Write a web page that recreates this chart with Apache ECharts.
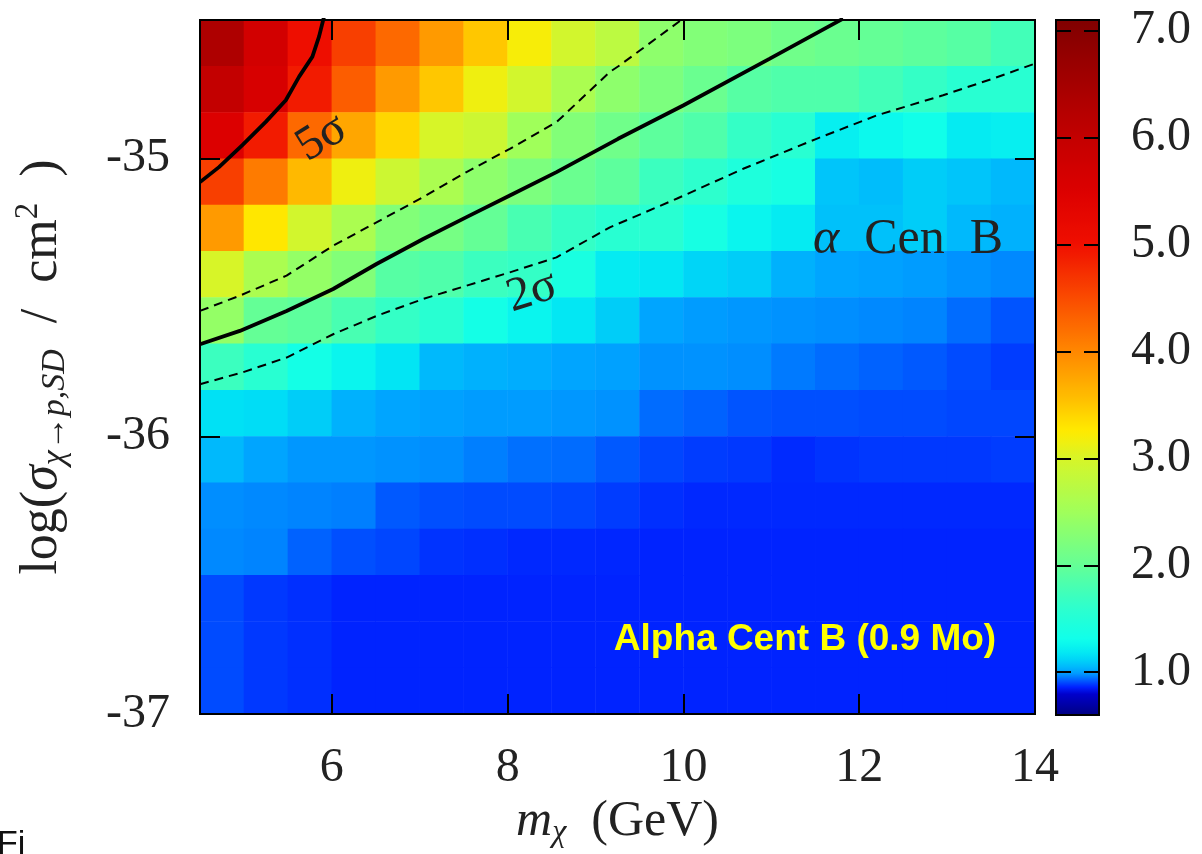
<!DOCTYPE html>
<html><head><meta charset="utf-8">
<script src="https://cdn.jsdelivr.net/npm/echarts@6/dist/echarts.min.js"></script>
<style>html,body{margin:0;padding:0;background:#fff}#c{width:1202px;height:854px}</style>
</head><body><div id="c"></div><script>
// ---- axes / bins ----
const massCentres = [4.75,5.25,5.75,6.25,6.75,7.25,7.75,8.25,8.75,9.25,9.75,10.25,10.75,11.25,11.75,12.25,12.75,13.25,13.75];
const logSigmaCentres = [-36.917,-36.75,-36.583,-36.417,-36.25,-36.083,-35.917,-35.75,-35.583,-35.417,-35.25,-35.083,-34.917,-34.75,-34.583]; // bottom -> top
const xTicks = [6,8,10,12,14];
const yTicks = [-37,-36,-35];
const cbarTicks = [1,2,3,4,5,6,7];

// ---- significance per row (top row first), columns follow massCentres ----
const row_34_58 = [6.35,5.70,5.05,4.60,4.25,3.85,3.50,3.20,2.95,2.75,2.35,2.25,2.20,2.10,2.05,2.00,1.95,1.90,1.75];
const row_34_75 = [6.00,5.60,4.90,4.35,3.85,3.50,3.15,2.95,2.60,2.35,2.20,2.05,1.90,1.85,1.85,1.75,1.65,1.55,1.55];
const row_34_92 = [5.50,4.90,4.25,3.75,3.40,3.00,2.90,2.50,2.25,2.10,1.95,1.85,1.65,1.55,1.22,1.27,1.32,1.20,1.22];
const row_35_08 = [4.60,4.10,3.60,3.15,2.90,2.60,2.35,2.20,2.05,1.95,1.70,1.60,1.45,1.38,1.08,1.06,1.10,1.08,1.05];
const row_35_25 = [3.85,3.28,2.95,2.60,2.25,2.15,2.00,1.80,1.65,1.55,1.55,1.38,1.25,1.20,1.07,1.07,1.10,1.05,1.03];
const row_35_42 = [3.00,2.60,2.40,2.25,1.90,1.85,1.70,1.65,1.40,1.20,1.18,1.12,1.10,1.03,1.00,0.995,0.99,0.98,0.97];
const row_35_58 = [2.40,2.00,1.95,1.80,1.65,1.55,1.35,1.25,1.18,1.10,1.00,0.99,0.985,0.98,0.975,0.97,0.965,0.94,0.915];
const row_35_75 = [1.70,1.55,1.35,1.25,1.17,1.05,1.03,1.02,1.00,0.995,0.98,0.98,0.975,0.955,0.94,0.93,0.92,0.905,0.89];
const row_35_92 = [1.15,1.14,1.10,1.03,1.00,0.995,0.99,0.99,0.985,0.98,0.94,0.93,0.915,0.91,0.91,0.905,0.905,0.90,0.90];
const row_36_08 = [1.05,1.00,0.985,0.985,0.98,0.975,0.96,0.945,0.94,0.92,0.90,0.89,0.885,0.87,0.88,0.885,0.885,0.885,0.89];
const row_36_25 = [0.975,0.97,0.965,0.96,0.92,0.91,0.905,0.905,0.90,0.89,0.875,0.868,0.868,0.868,0.868,0.868,0.868,0.868,0.868];
const row_36_42 = [0.97,0.965,0.93,0.91,0.90,0.88,0.875,0.868,0.868,0.866,0.863,0.863,0.863,0.863,0.863,0.863,0.863,0.863,0.863];
const row_36_58 = [0.905,0.885,0.875,0.863,0.863,0.863,0.863,0.863,0.863,0.863,0.863,0.863,0.863,0.863,0.863,0.863,0.863,0.863,0.863];
const row_36_75 = [0.905,0.885,0.875,0.863,0.863,0.863,0.863,0.863,0.863,0.863,0.863,0.863,0.863,0.863,0.863,0.863,0.863,0.863,0.863];
const row_36_92 = [0.905,0.885,0.875,0.863,0.863,0.863,0.863,0.863,0.863,0.863,0.863,0.863,0.863,0.863,0.863,0.863,0.863,0.863,0.863];

// ---- contours [mass GeV, log sigma] ----
const fiveSigma = [[4.5,-35.084],[4.716,-35.030],[4.982,-34.951],[5.248,-34.867],[5.476,-34.789],[5.628,-34.704],[5.779,-34.632],[5.855,-34.559],[5.912,-34.487]];
const twoSigma = [[4.5,-35.668],[4.953,-35.620],[5.485,-35.548],[6.015,-35.469],[6.508,-35.379],[7.039,-35.289],[7.532,-35.210],[8.025,-35.132],[8.556,-35.048],[9.257,-34.928],[9.997,-34.808],[10.983,-34.639],[11.817,-34.495]];
const bandUpper = [[4.5,-35.548],[4.953,-35.493],[5.485,-35.421],[6.015,-35.313],[6.508,-35.229],[7.039,-35.138],[7.532,-35.048],[8.025,-34.964],[8.556,-34.868],[9.163,-34.687],[9.276,-34.663],[9.997,-34.495]];
const bandLower = [[4.5,-35.812],[4.987,-35.769],[5.485,-35.716],[6.015,-35.632],[6.508,-35.566],[7.039,-35.505],[7.532,-35.457],[8.025,-35.409],[8.556,-35.355],[9.163,-35.247],[9.922,-35.144],[10.68,-35.036],[11.514,-34.928],[12.197,-34.844],[12.954,-34.771],[13.523,-34.711],[14.0,-34.657]];

// ---- colour map (style) ----
const cmapStops = [[0.60,[0,0,130]],[0.85,[0,0,225]],[0.86,[0,32,255]],[1.00,[0,165,255]],[1.15,[0,225,245]],[1.30,[15,255,235]],[1.60,[45,255,205]],[2.00,[100,255,150]],[2.50,[160,255,90]],[3.00,[215,245,40]],[3.25,[255,235,0]],[3.60,[255,185,0]],[4.00,[255,135,0]],[4.50,[250,75,0]],[5.00,[240,15,0]],[5.50,[220,0,0]],[6.00,[195,0,0]],[6.50,[165,0,0]],[7.10,[128,0,0]]];
function cmapAt(v){
  if (v <= cmapStops[0][0]) return cmapStops[0][1];
  for (let i=1;i<cmapStops.length;i++){
    const [v1,c1]=cmapStops[i]; const [v0,c0]=cmapStops[i-1];
    if (v <= v1 + 1e-9){ const t=(v-v0)/(v1-v0); return c0.map((c,k)=>Math.round(c+(c1[k]-c)*t)); }
  }
  return cmapStops[cmapStops.length-1][1];
}
const VMIN=0.6, VMAX=7.1, NC=651;
const cmapColors = [];
for (let i=0;i<NC;i++){ const c=cmapAt(VMIN+i*(VMAX-VMIN)/(NC-1)); cmapColors.push('rgb('+c.join(',')+')'); }

const rowsTopDown = [row_34_58,row_34_75,row_34_92,row_35_08,row_35_25,row_35_42,row_35_58,row_35_75,row_35_92,row_36_08,row_36_25,row_36_42,row_36_58,row_36_75,row_36_92];
const heatData = [];
rowsTopDown.forEach((row,i)=>{ const yi = logSigmaCentres.length-1-i; row.forEach((v,j)=>heatData.push([j,yi,v])); });

const SERIF = '"Liberation Serif", "DejaVu Serif", serif';
const tickFont = {fontFamily: SERIF, fontSize: 48, color: '#222'};
const tickLine = {color:'#000', width:2};

const chart = echarts.init(document.getElementById('c'), null, {renderer:'canvas'});
chart.setOption({
  animation:false,
  backgroundColor:'#fff',
  grid:[
    {left:200, right:167, top:20, bottom:140, show:true, borderColor:'#000', borderWidth:2, backgroundColor:'transparent', z:10, outerBoundsMode:'none', containLabel:false},
    {left:1056, top:20, width:43, height:695, show:true, borderColor:'#000', borderWidth:2, backgroundColor:'transparent', z:10, outerBoundsMode:'none', containLabel:false}
  ],
  xAxis:[
    {gridIndex:0, type:'category', data:massCentres.map(String), show:false},
    {gridIndex:0, type:'value', min:4.5, max:14, position:'bottom', z:10,
      axisLine:{show:false}, splitLine:{show:false},
      axisTick:{show:true, inside:true, length:20, customValues:xTicks, lineStyle:tickLine},
      axisLabel:{customValues:xTicks, margin:30, ...tickFont},
      name:'{i|m}{s|χ}{n|  (GeV)}', nameLocation:'middle', nameGap:80,
      nameTextStyle:{rich:{
        i:{fontFamily:SERIF, fontStyle:'italic', fontSize:50, color:'#222', lineHeight:54},
        s:{fontFamily:SERIF, fontStyle:'italic', fontSize:32, color:'#222', lineHeight:30, verticalAlign:'bottom'},
        n:{fontFamily:SERIF, fontSize:50, color:'#222', lineHeight:54}}}
    },
    {gridIndex:0, type:'value', min:4.5, max:14, position:'top', z:10,
      axisLine:{show:false}, splitLine:{show:false},
      axisTick:{show:true, inside:true, length:20, customValues:[6,8,10,12], lineStyle:tickLine},
      axisLabel:{show:false}},
    {gridIndex:1, type:'value', min:0, max:1, show:false}
  ],
  yAxis:[
    {gridIndex:0, type:'category', data:logSigmaCentres.map(String), show:false},
    {gridIndex:0, type:'value', min:-37, max:-34.5, position:'left', z:10,
      axisLine:{show:false}, splitLine:{show:false},
      axisTick:{show:true, inside:true, length:20, customValues:yTicks, lineStyle:tickLine},
      axisLabel:{customValues:yTicks, margin:30, formatter:v=>String(v), ...tickFont},
      name:'{n|log(}{i|σ}{s|χ→p,SD}{n|  /  cm}{p|2}{n|  )}', nameLocation:'middle', nameGap:128, nameRotate:90,
      nameTextStyle:{rich:{
        n:{fontFamily:SERIF, fontSize:52, color:'#222', lineHeight:60},
        i:{fontFamily:SERIF, fontStyle:'italic', fontSize:52, color:'#222', lineHeight:60},
        s:{fontFamily:SERIF, fontStyle:'italic', fontSize:34, color:'#222', lineHeight:34, verticalAlign:'bottom'},
        p:{fontFamily:SERIF, fontSize:33, color:'#222', lineHeight:34, verticalAlign:'top'}}}
    },
    {gridIndex:0, type:'value', min:-37, max:-34.5, position:'right', z:10,
      axisLine:{show:false}, splitLine:{show:false},
      axisTick:{show:true, inside:true, length:20, customValues:[-36,-35], lineStyle:tickLine},
      axisLabel:{show:false}},
    {gridIndex:1, type:'value', min:VMIN, max:VMAX, position:'left', z:10,
      axisLine:{show:false}, splitLine:{show:false},
      axisTick:{show:true, inside:true, length:15, customValues:cbarTicks, lineStyle:tickLine},
      axisLabel:{show:false}},
    {gridIndex:1, type:'value', min:VMIN, max:VMAX, position:'right', z:10,
      axisLine:{show:false}, splitLine:{show:false},
      axisTick:{show:true, inside:true, length:15, customValues:cbarTicks, lineStyle:tickLine},
      axisLabel:{customValues:cbarTicks, margin:32, formatter:v=>Number(v).toFixed(1), ...tickFont}}
  ],
  visualMap:{
    type:'continuous', seriesIndex:0, dimension:2, min:VMIN, max:VMAX,
    inRange:{color:cmapColors}, calculable:false, orient:'vertical',
    left:1056, top:20, itemWidth:43, itemHeight:695, padding:0, text:null, z:4
  },
  graphic:[
    {type:'text', x:322, y:138, rotation:0.55, z:50, silent:true,
      style:{text:'5σ', font:'48px "Liberation Serif"', fill:'#222', align:'center', verticalAlign:'middle', textAlign:'center', textVerticalAlign:'middle'}},
    {type:'text', x:532, y:292, rotation:0.30, z:50, silent:true,
      style:{text:'2σ', font:'48px "Liberation Serif"', fill:'#222', align:'center', verticalAlign:'middle', textAlign:'center', textVerticalAlign:'middle'}},
    {type:'text', x:908, y:240, z:50, silent:true,
      style:{text:'{i|α}  Cen  B', font:'50px "Liberation Serif"', fill:'#222', align:'center', verticalAlign:'middle', textAlign:'center', textVerticalAlign:'middle',
        rich:{i:{fontFamily:'Liberation Serif', fontStyle:'italic', fontSize:50, fill:'#222'}}}},
    {type:'text', x:805, y:640, z:50, silent:true,
      style:{text:'Alpha Cent B (0.9 Mo)', font:'bold 37px "Liberation Sans"', fill:'#ffff00', align:'center', verticalAlign:'middle', textAlign:'center', textVerticalAlign:'middle'}},
    {type:'text', x:-3, y:828, z:50, silent:true,
      style:{text:'Fi', font:'34px "Liberation Sans"', fill:'#111', align:'left', verticalAlign:'top', textAlign:'left', textVerticalAlign:'top'}}
  ],
  series:[
    {type:'heatmap', xAxisIndex:0, yAxisIndex:0, data:heatData, z:2, emphasis:{disabled:true}, itemStyle:{borderWidth:0}},
    {type:'line', xAxisIndex:1, yAxisIndex:1, data:fiveSigma, symbol:'none', silent:true, z:5, lineStyle:{color:'#000', width:3.8}},
    {type:'line', xAxisIndex:1, yAxisIndex:1, data:twoSigma, symbol:'none', silent:true, z:5, lineStyle:{color:'#000', width:3.8}},
    {type:'line', xAxisIndex:1, yAxisIndex:1, data:bandUpper, symbol:'none', silent:true, z:5, lineStyle:{color:'#000', width:2, type:[9,6]}},
    {type:'line', xAxisIndex:1, yAxisIndex:1, data:bandLower, symbol:'none', silent:true, z:5, lineStyle:{color:'#000', width:2, type:[9,6]}}
  ]
});
</script></body></html>
